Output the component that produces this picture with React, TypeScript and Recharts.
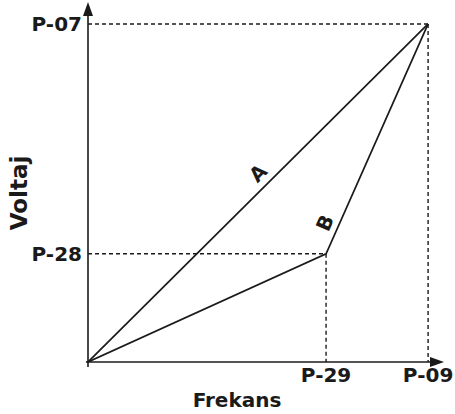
import React from 'react';
import { LineChart, Line, XAxis, YAxis, ReferenceLine, ReferenceDot } from 'recharts';

const xTicks = [70, 100];
const xTickLabels = ['P-29', 'P-09'];
const yTicks = [32, 100];
const yTickLabels = ['P-28', 'P-07'];
const seriesA = [
  { x: 0, y: 0 },
  { x: 100, y: 100 },
];
const seriesB = [
  { x: 0, y: 0 },
  { x: 70, y: 32 },
  { x: 100, y: 100 },
];
const X_MAX = 103.5;
const Y_MAX = 105.6;

const FONT = '"DejaVu Sans", Verdana, sans-serif';
const INK = '#1a1a1a';

const xFmt = (v: number) => xTickLabels[xTicks.indexOf(v)] ?? '';
const yFmt = (v: number) => yTickLabels[yTicks.indexOf(v)] ?? '';

const ArrowRight = (p: any) => (
  <path d={`M${p.cx + 4},${p.cy} L${p.cx - 10},${p.cy - 5} L${p.cx - 10},${p.cy + 5} Z`} fill={INK} />
);
const ArrowUp = (p: any) => (
  <path d={`M${p.cx},${p.cy - 3} L${p.cx - 5},${p.cy + 11} L${p.cx + 5},${p.cy + 11} Z`} fill={INK} />
);
const rotLabel = (txt: string, angle: number) => (p: any) => (
  <text
    x={p.cx}
    y={p.cy}
    transform={`rotate(${angle}, ${p.cx}, ${p.cy})`}
    textAnchor="middle"
    dominantBaseline="central"
    fontFamily={FONT}
    fontWeight="bold"
    fontSize={20}
    fill={INK}
  >
    {txt}
  </text>
);

export default function App() {
  const tickStyle = { fontFamily: FONT, fontWeight: 'bold', fontSize: 20, fill: INK } as any;
  return (
    <div style={{ position: 'absolute', left: 0, top: 0 }}>
      <LineChart width={455} height={414} margin={{ top: 5, right: 15, left: 8, bottom: 22 }}>
        <XAxis
          type="number"
          dataKey="x"
          domain={[0, X_MAX]}
          ticks={xTicks}
          tickFormatter={xFmt}
          tickLine={false}
          tickSize={0}
          tickMargin={6}
          height={30}
          axisLine={{ stroke: INK, strokeWidth: 1.6 }}
          tick={tickStyle}
          allowDataOverflow
          label={{
            content: () => (
              <text
                x={237}
                y={407}
                textAnchor="middle"
                fontFamily={FONT}
                fontWeight="bold"
                fontSize={20}
                fill={INK}
              >
                Frekans
              </text>
            ),
          }}
        />
        <YAxis
          type="number"
          dataKey="y"
          domain={[0, Y_MAX]}
          ticks={yTicks}
          tickFormatter={yFmt}
          tickLine={false}
          tickSize={0}
          tickMargin={6}
          width={80}
          axisLine={{ stroke: INK, strokeWidth: 1.6 }}
          tick={tickStyle}
          allowDataOverflow
          label={{
            content: () => (
              <text
                x={27}
                y={193}
                transform="rotate(-90, 27, 193)"
                textAnchor="middle"
                fontFamily={FONT}
                fontWeight="bold"
                fontSize={23}
                fill={INK}
              >
                Voltaj
              </text>
            ),
          }}
        />
        <ReferenceLine segment={[{ x: 0, y: 100 }, { x: 100, y: 100 }]} stroke={INK} strokeWidth={1.4} strokeDasharray="4 3" ifOverflow="visible" />
        <ReferenceLine segment={[{ x: 100, y: 100 }, { x: 100, y: 0 }]} stroke={INK} strokeWidth={1.4} strokeDasharray="4 3" ifOverflow="visible" />
        <ReferenceLine segment={[{ x: 0, y: 32 }, { x: 70, y: 32 }]} stroke={INK} strokeWidth={1.4} strokeDasharray="4 3" ifOverflow="visible" />
        <ReferenceLine segment={[{ x: 70, y: 32 }, { x: 70, y: 0 }]} stroke={INK} strokeWidth={1.4} strokeDasharray="4 3" ifOverflow="visible" />
        <ReferenceLine segment={[{ x: 0, y: 0 }, { x: 0, y: -1.5 }]} stroke={INK} strokeWidth={1.6} ifOverflow="visible" />
        <ReferenceLine segment={[{ x: 0, y: 0 }, { x: -0.6, y: 0 }]} stroke={INK} strokeWidth={1.6} ifOverflow="visible" />
        <Line data={seriesA} dataKey="y" type="linear" stroke={INK} strokeWidth={1.7} dot={false} isAnimationActive={false} />
        <Line data={seriesB} dataKey="y" type="linear" stroke={INK} strokeWidth={1.7} dot={false} isAnimationActive={false} />
        <ReferenceDot x={X_MAX} y={0} r={0} shape={ArrowRight} ifOverflow="visible" />
        <ReferenceDot x={0} y={Y_MAX} r={0} shape={ArrowUp} ifOverflow="visible" />
        <ReferenceDot x={50} y={55.9} r={0} shape={rotLabel('A', -45)} ifOverflow="visible" />
        <ReferenceDot x={69.7} y={41.1} r={0} shape={rotLabel('B', -66)} ifOverflow="visible" />
      </LineChart>
    </div>
  );
}
